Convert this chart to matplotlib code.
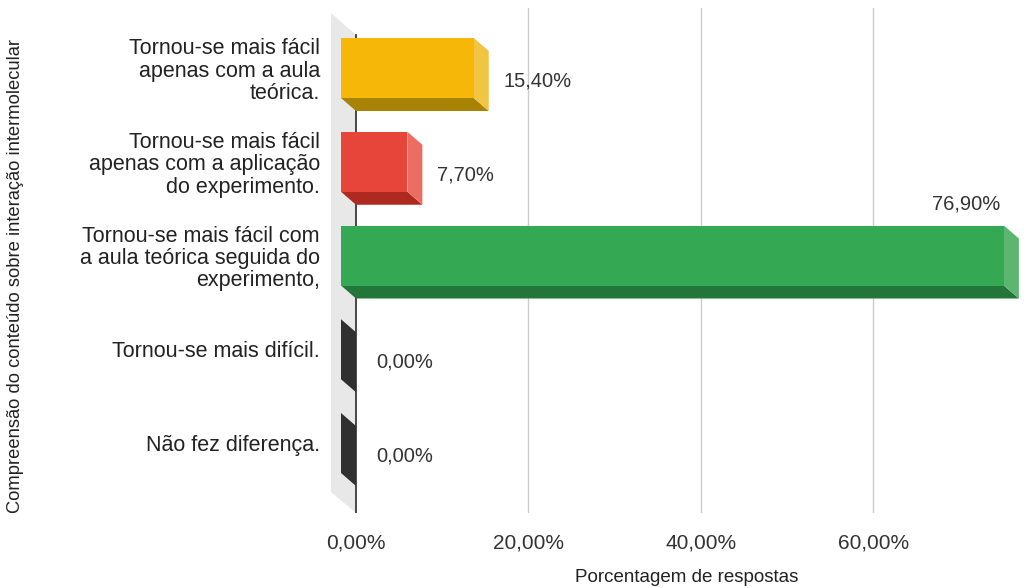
import matplotlib
matplotlib.use("Agg")
import matplotlib.pyplot as plt
import matplotlib.ticker as mticker
from matplotlib.patches import Polygon

plt.rcParams.update({
    "font.family": ["Liberation Sans", "DejaVu Sans"],
    "font.size": 11,
    "text.color": "#222222",
})

# respostas: categorias e percentuais
categorias = [
    "Tornou-se mais fácil\napenas com a aula\nteórica.",
    "Tornou-se mais fácil\napenas com a aplicação\ndo experimento.",
    "Tornou-se mais fácil com\na aula teórica seguida do\nexperimento,",
    "Tornou-se mais difícil.",
    "Não fez diferença.",
]
percentuais = [15.4, 7.7, 76.9, 0.0, 0.0]
xticks = [0, 20, 40, 60]

# cores de cada barra: frente, lateral, fundo
cores_frente = ["#F7B709", "#E8453A", "#34A853", "#303030", "#303030"]
cores_lado = ["#F1C442", "#EC6E62", "#5DB670", "#303030", "#303030"]
cores_base = ["#A98404", "#AE2A20", "#237639", "#303030", "#303030"]

W, H, DPI = 1035, 588, 100
X0_PX, PX_PER_PCT = 356, 8.62     # posição do 0% e escala horizontal
ROW0_PX, ROW_PX = 81, 93.75       # centro da primeira barra e passo entre barras
AX_LEFT, AX_RIGHT, AX_TOP, AX_BOT = 331, 1030, 8, 513

fig = plt.figure(figsize=(W / DPI, H / DPI), dpi=DPI)
ax = fig.add_axes([AX_LEFT / W, 1 - AX_BOT / H,
                   (AX_RIGHT - AX_LEFT) / W, (AX_BOT - AX_TOP) / H])
ax.set_xlim((AX_LEFT - X0_PX) / PX_PER_PCT, (AX_RIGHT - X0_PX) / PX_PER_PCT)
ax.set_ylim((AX_BOT - ROW0_PX) / ROW_PX, (AX_TOP - ROW0_PX) / ROW_PX)

# profundidade do efeito 3D (frente deslocada para cima/esquerda)
DX = -15 / PX_PER_PCT
DY = -13 / ROW_PX
ESP = 60 / ROW_PX  # espessura da barra

for s in ax.spines.values():
    s.set_visible(False)

# parede lateral cinza
y_top = (AX_TOP - ROW0_PX) / ROW_PX
y_bot = (AX_BOT - ROW0_PX) / ROW_PX
wx = -25 / PX_PER_PCT
wall = Polygon([(wx, y_top + 5 / ROW_PX), (0, y_top + 27 / ROW_PX),
                (0, y_bot), (wx, y_bot - 21 / ROW_PX)],
               closed=True, facecolor="#E8E8E8", edgecolor="none", zorder=0)
ax.add_patch(wall)

# grade vertical
for xt in xticks[1:]:
    ax.axvline(xt, color="#CCCCCC", linewidth=1.0, zorder=1)
ax.plot([0, 0], [y_top + 27 / ROW_PX, y_bot], color="#3A3A3A", linewidth=1.3, zorder=2)

for i, (v, cf, cl, cb) in enumerate(zip(percentuais, cores_frente, cores_lado, cores_base)):
    y0, y1 = i - ESP / 2, i + ESP / 2
    # fundo
    ax.add_patch(Polygon([(DX, y1 + DY), (v + DX, y1 + DY), (v, y1), (0, y1)],
                         closed=True, facecolor=cb, edgecolor="none", zorder=3))
    # lateral direita
    ax.add_patch(Polygon([(v + DX, y0 + DY), (v, y0), (v, y1), (v + DX, y1 + DY)],
                         closed=True, facecolor=cl, edgecolor="none", zorder=3))
    # frente
    if v > 0:
        ax.add_patch(Polygon([(DX, y0 + DY), (v + DX, y0 + DY),
                              (v + DX, y1 + DY), (DX, y1 + DY)],
                             closed=True, facecolor=cf, edgecolor="none", zorder=4))

    rotulo = f"{v:.2f}%".replace(".", ",")
    if v > 60:
        ax.annotate(rotulo, xy=(v + DX, y0 + DY), xytext=(-4, 21),
                    textcoords="offset pixels", ha="right", va="center",
                    fontsize=14.5, color="#333333", zorder=6)
    else:
        ax.annotate(rotulo, xy=(v, i), xytext=(15 if v > 0 else 20, 0),
                    textcoords="offset pixels", ha="left", va="center",
                    fontsize=14.5, color="#333333", zorder=6)

ax.set_yticks([i + DY for i in range(len(categorias))])
ax.set_yticklabels(categorias, fontsize=15.5, color="#222222")
for t in ax.get_yticklabels():
    t.set_linespacing(1.08)
ax.set_xticks(xticks)
ax.xaxis.set_major_formatter(mticker.FuncFormatter(
    lambda x, _: f"{x:.2f}%".replace(".", ",")))
ax.tick_params(axis="x", length=0, pad=15, labelsize=15, labelcolor="#333333")
ax.tick_params(axis="y", length=0, pad=8)

fig.text(687 / W, 1 - 578 / H, "Porcentagem de respostas",
         ha="center", va="center", fontsize=13.5, color="#222222")
fig.text(16 / W, 1 - 276 / H, "Compreensão do conteúdo sobre interação intermolecular",
         ha="center", va="center", rotation=90, fontsize=13.2, color="#222222")

fig.savefig("out.png", dpi=DPI, facecolor="white")
